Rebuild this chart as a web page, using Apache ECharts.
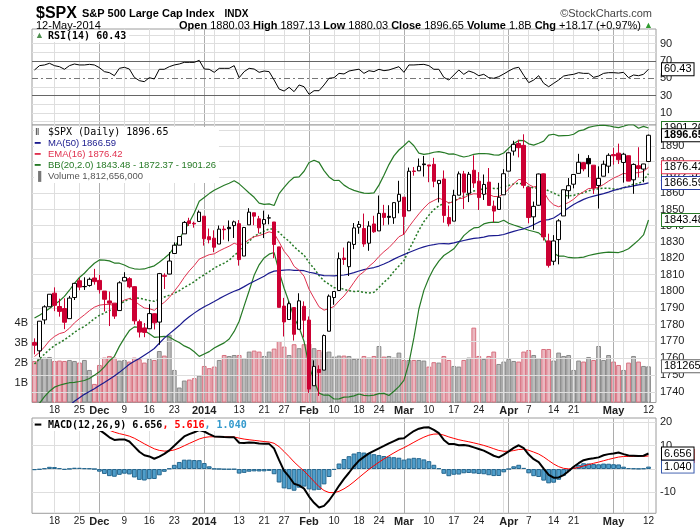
<!DOCTYPE html>
<html lang="en">
<head>
<meta charset="utf-8">
<title>$SPX Daily</title>
<script src="https://cdn.jsdelivr.net/npm/echarts@6/dist/echarts.min.js"></script>
<style>html,body{margin:0;padding:0;background:#fff}#chart{width:700px;height:530px}</style>
</head>
<body>
<div id="chart"></div>
<script>
// trading days, 12-Nov-2013 .. 12-May-2014
var dates = [
  '2013-11-12','2013-11-13','2013-11-14','2013-11-15','2013-11-18','2013-11-19','2013-11-20','2013-11-21','2013-11-22','2013-11-25','2013-11-26','2013-11-27','2013-11-29',
  '2013-12-02','2013-12-03','2013-12-04','2013-12-05','2013-12-06','2013-12-09','2013-12-10','2013-12-11','2013-12-12','2013-12-13','2013-12-16','2013-12-17','2013-12-18','2013-12-19','2013-12-20','2013-12-23','2013-12-24','2013-12-26','2013-12-27','2013-12-30','2013-12-31',
  '2014-01-02','2014-01-03','2014-01-06','2014-01-07','2014-01-08','2014-01-09','2014-01-10','2014-01-13','2014-01-14','2014-01-15','2014-01-16','2014-01-17','2014-01-21','2014-01-22','2014-01-23','2014-01-24','2014-01-27','2014-01-28','2014-01-29','2014-01-30','2014-01-31',
  '2014-02-03','2014-02-04','2014-02-05','2014-02-06','2014-02-07','2014-02-10','2014-02-11','2014-02-12','2014-02-13','2014-02-14','2014-02-18','2014-02-19','2014-02-20','2014-02-21','2014-02-24','2014-02-25','2014-02-26','2014-02-27','2014-02-28',
  '2014-03-03','2014-03-04','2014-03-05','2014-03-06','2014-03-07','2014-03-10','2014-03-11','2014-03-12','2014-03-13','2014-03-14','2014-03-17','2014-03-18','2014-03-19','2014-03-20','2014-03-21','2014-03-24','2014-03-25','2014-03-26','2014-03-27','2014-03-28','2014-03-31',
  '2014-04-01','2014-04-02','2014-04-03','2014-04-04','2014-04-07','2014-04-08','2014-04-09','2014-04-10','2014-04-11','2014-04-14','2014-04-15','2014-04-16','2014-04-17','2014-04-21','2014-04-22','2014-04-23','2014-04-24','2014-04-25','2014-04-28','2014-04-29','2014-04-30',
  '2014-05-01','2014-05-02','2014-05-05','2014-05-06','2014-05-07','2014-05-08','2014-05-09','2014-05-12'
];
var priorClose = 1771.89; // 11-Nov close, only used for the first bar's colour

var opens = [
  1769.26,1764.37,1782.75,1790.66,1798.82,1790.79,1789.59,1783.52,1796.19,1806.33,1802.87,1803.48,1808.01,
  1806.55,1800.10,1794.15,1792.82,1788.36,1806.21,1807.60,1802.76,1781.71,1777.98,1777.48,1786.47,1781.46,1809.00,1810.39,1822.92,1828.02,1834.96,1842.97,1841.47,1842.61,
  1845.86,1833.21,1832.31,1828.71,1837.90,1839.00,1840.06,1841.26,1821.36,1840.52,1847.99,1844.23,1841.05,1844.71,1842.29,1826.96,1791.03,1783.00,1790.15,1777.17,1790.88,
  1782.68,1743.82,1753.38,1752.99,1776.01,1796.20,1800.45,1820.12,1814.88,1828.46,1839.03,1838.22,1829.24,1841.07,1836.78,1847.66,1845.79,1844.90,1855.12,
  1857.68,1849.23,1874.05,1874.18,1878.52,1877.86,1878.26,1866.15,1869.06,1845.07,1842.81,1858.92,1872.25,1860.09,1874.53,1867.67,1859.48,1867.09,1852.11,1850.07,1859.16,
  1873.96,1886.61,1891.43,1890.25,1863.92,1845.48,1852.64,1872.28,1830.65,1818.18,1831.45,1846.01,1861.73,1865.79,1872.57,1879.32,1881.97,1877.72,1865.00,1870.78,1877.10,
  1884.39,1885.30,1879.45,1883.69,1868.53,1877.39,1875.27,1880.03
];
var highs = [
  1771.78,1782.00,1791.53,1798.22,1802.33,1795.51,1795.73,1797.16,1804.84,1808.10,1808.42,1808.27,1813.55,
  1810.02,1800.10,1799.80,1792.82,1806.04,1811.52,1808.52,1802.97,1782.99,1780.92,1792.22,1786.77,1811.08,1810.88,1823.75,1829.75,1833.32,1842.84,1844.89,1842.47,1849.44,
  1845.86,1838.24,1837.16,1840.10,1840.02,1843.23,1843.15,1843.45,1839.26,1850.84,1847.99,1846.04,1849.31,1846.87,1842.29,1826.96,1795.98,1793.87,1790.15,1798.77,1793.88,
  1784.83,1758.73,1755.79,1774.06,1798.03,1799.94,1823.54,1826.55,1830.25,1841.65,1842.87,1847.50,1842.79,1846.13,1858.71,1852.91,1852.65,1854.53,1867.92,
  1857.68,1876.23,1876.53,1881.94,1883.57,1877.87,1882.35,1868.38,1874.40,1852.44,1862.30,1873.76,1874.14,1873.49,1883.97,1873.34,1871.87,1875.92,1855.55,1866.63,1875.18,
  1885.84,1893.17,1893.80,1897.28,1864.04,1854.95,1872.43,1872.53,1835.07,1834.19,1844.02,1862.31,1869.63,1871.89,1884.89,1879.75,1884.06,1877.72,1877.01,1880.60,1885.20,
  1888.59,1891.33,1885.51,1883.69,1878.83,1889.07,1878.57,1897.13
];
var lows = [
  1762.29,1760.64,1780.22,1790.66,1788.00,1784.72,1777.23,1783.52,1794.70,1800.58,1800.77,1802.77,1803.98,
  1798.60,1787.85,1779.09,1783.38,1788.36,1806.21,1801.75,1780.09,1772.28,1772.45,1777.48,1777.05,1767.99,1801.35,1810.25,1822.92,1828.02,1834.96,1839.81,1838.77,1842.41,
  1827.74,1829.13,1823.73,1828.71,1831.40,1830.38,1832.43,1815.52,1821.36,1840.52,1840.30,1835.23,1832.38,1840.88,1820.06,1790.29,1772.88,1783.00,1770.45,1777.17,1772.26,
  1739.66,1743.82,1737.92,1752.99,1776.01,1791.83,1800.41,1815.97,1809.22,1825.59,1835.01,1826.99,1824.58,1835.60,1836.78,1840.19,1840.66,1841.13,1847.67,
  1834.44,1849.23,1871.11,1874.18,1870.56,1867.04,1863.88,1854.38,1841.86,1839.57,1842.81,1858.92,1850.35,1854.63,1863.46,1849.69,1855.96,1852.56,1842.11,1850.07,1859.16,
  1873.96,1883.79,1882.65,1863.26,1841.48,1837.49,1852.38,1830.87,1814.36,1815.80,1816.29,1846.01,1856.72,1863.18,1872.57,1873.91,1870.24,1859.70,1850.61,1870.78,1872.69,
  1878.04,1878.50,1866.77,1867.72,1859.79,1870.05,1867.02,1880.03
];
var closes = [
  1767.69,1782.00,1790.62,1798.18,1791.53,1787.87,1781.37,1795.85,1804.76,1802.48,1802.75,1807.23,1805.81,
  1800.90,1795.15,1792.81,1785.03,1805.09,1808.37,1802.62,1782.22,1775.50,1775.32,1786.54,1781.00,1810.65,1809.60,1818.32,1827.99,1833.32,1842.02,1841.40,1841.07,1848.36,
  1831.98,1831.37,1826.77,1837.88,1837.49,1838.13,1842.37,1819.20,1838.88,1848.38,1845.89,1838.70,1843.80,1844.86,1828.46,1790.29,1781.56,1792.50,1774.20,1794.19,1782.59,
  1741.89,1755.20,1751.64,1773.43,1797.02,1799.84,1819.75,1819.26,1829.83,1838.63,1840.76,1828.75,1839.78,1836.25,1847.61,1845.12,1845.16,1854.29,1859.45,
  1845.73,1873.91,1873.81,1877.03,1878.04,1877.17,1867.63,1868.20,1846.34,1841.13,1858.83,1872.25,1860.77,1872.01,1866.52,1857.44,1865.62,1852.56,1849.04,1857.62,1872.34,
  1885.52,1890.90,1888.77,1865.09,1845.04,1851.96,1872.18,1833.08,1815.69,1830.61,1842.98,1862.31,1864.85,1871.89,1879.55,1875.39,1878.61,1863.40,1869.43,1878.33,1883.95,
  1883.68,1881.14,1884.66,1867.72,1878.21,1875.63,1878.48,1896.65
];
// volume in billions of shares
var volumes = [
  2.08,2.18,2.25,2.28,2.08,2.10,2.08,2.13,2.08,2.00, 2.13,1.63,0.93,1.88,2.25,2.33,2.25,2.10,2.13,2.05,
  2.25,2.17,2.00,2.18,2.13,2.58,2.35,3.40,1.63,0.75, 1.10,1.15,1.22,1.35,1.83,1.72,1.80,2.13,2.38,2.33,
  2.38,2.38,2.22,2.55,2.60,2.55,2.33,2.55,2.70,3.08, 2.80,2.38,2.92,2.72,2.92,2.95,2.72,2.63,2.55,2.55,
  2.30,2.35,2.35,2.33,2.18,2.18,2.33,2.25,2.33,2.83, 2.30,2.33,2.25,2.50,2.13,2.13,2.13,2.13,2.10,1.80,
  2.02,2.00,2.33,2.13,1.83,1.80,2.13,2.25,3.75,2.33, 2.18,2.33,2.55,1.93,2.05,2.18,2.08,2.05,2.55,2.63,
  2.38,2.22,2.68,2.68,2.10,2.50,2.33,2.38,1.63,2.10, 2.05,2.28,2.13,2.83,2.13,2.38,2.05,1.88,1.63,2.00,
  2.33,2.05,1.83,1.81
];
var ma50 = [
  1715.68,1718.26,1720.97,1723.83,1726.23,1728.31,1730.15,1732.40,1734.74,1736.84, 1738.80,1740.43,1742.10,1743.92,1745.79,1747.70,1749.55,1751.68,1754.01,1756.43,
  1758.17,1759.80,1761.73,1763.65,1765.75,1768.85,1771.91,1774.43,1776.93,1779.39, 1782.27,1784.67,1786.83,1788.91,1790.66,1792.19,1793.80,1795.52,1797.07,1798.59,
  1800.00,1801.12,1802.77,1804.50,1806.06,1807.57,1809.04,1810.99,1812.15,1812.52, 1812.80,1813.01,1812.68,1812.60,1812.42,1811.50,1810.98,1810.10,1809.47,1809.36,
  1809.30,1809.55,1809.82,1810.40,1811.27,1812.23,1813.10,1813.79,1814.35,1815.25, 1816.51,1817.90,1819.48,1820.94,1822.23,1823.50,1824.78,1825.95,1826.95,1827.83,
  1828.34,1828.88,1828.99,1828.85,1829.39,1830.21,1830.89,1831.57,1832.15,1832.54, 1833.01,1833.68,1833.88,1834.06,1834.59,1835.53,1836.47,1837.35,1838.08,1839.18,
  1840.59,1842.18,1843.36,1843.79,1844.75,1846.77,1848.89,1851.16,1853.13,1854.78, 1856.29,1857.47,1858.35,1859.14,1859.94,1860.80,1861.90,1862.73,1863.70,1864.10,
  1864.76,1865.37,1865.85,1866.59
];
var ema16 = [
  1761.0,1763.5,1766.7,1770.4,1772.9,1774.6,1775.4,1777.8,1781.0,1783.5, 1785.8,1788.3,1790.4,1791.6,1792.0,1792.1,1791.3,1792.9,1794.7,1795.6,
  1794.1,1791.9,1789.9,1789.5,1788.5,1791.1,1793.3,1796.2,1800.0,1803.9, 1808.4,1812.3,1815.6,1819.5,1820.9,1822.2,1822.7,1824.5,1826.0,1827.4,
  1829.2,1828.0,1829.3,1831.5,1833.2,1833.9,1835.0,1836.2,1835.3,1830.0, 1824.3,1820.6,1815.1,1812.7,1809.1,1801.2,1795.8,1790.6,1788.6,1789.6,
  1790.8,1794.2,1797.1,1801.0,1805.4,1809.6,1811.8,1815.1,1817.6,1821.1, 1824.0,1826.5,1829.7,1833.2,1834.7,1839.3,1843.4,1847.3,1850.9,1854.0,
  1855.6,1857.1,1855.8,1854.1,1854.7,1856.7,1857.2,1859.0,1859.8,1859.6, 1860.3,1859.4,1858.1,1858.1,1859.8,1862.8,1866.1,1868.8,1868.3,1865.6,
  1864.0,1864.9,1861.2,1855.8,1852.9,1851.7,1853.0,1854.4,1856.4,1859.2, 1861.1,1863.1,1863.2,1863.9,1865.6,1867.7,1869.6,1871.0,1872.6,1872.0,
  1872.7,1873.1,1873.7,1876.42
];
var bbUpper = [
  1783.9,1785.6,1787.5,1789.6,1792.0,1794.1,1796.9,1800.6,1804.8,1808.3, 1810.9,1814.1,1817.0,1819.0,1818.9,1818.4,1817.1,1817.0,1815.9,1814.4,
  1813.6,1813.3,1813.5,1814.5,1815.4,1817.6,1820.0,1822.6,1826.8,1831.3, 1837.3,1842.0,1847.8,1855.1,1857.5,1859.9,1862.0,1863.6,1865.1,1866.4,
  1867.9,1866.0,1863.2,1860.3,1857.6,1854.0,1853.2,1853.5,1852.5,1859.9, 1863.8,1867.4,1870.1,1870.4,1873.9,1879.4,1880.8,1879.5,1874.3,1870.3,
  1868.1,1868.2,1865.2,1863.3,1861.9,1861.0,1860.2,1860.0,1860.4,1865.2, 1871.4,1878.1,1883.6,1887.3,1890.0,1893.1,1890.0,1885.3,1884.5,1885.0,
  1885.9,1886.3,1885.7,1884.7,1884.8,1883.8,1882.9,1883.5,1884.6,1885.0, 1885.1,1884.9,1884.2,1884.1,1885.4,1888.5,1891.4,1893.4,1893.3,1891.2,
  1890.4,1891.6,1892.9,1896.7,1897.3,1896.3,1896.4,1896.5,1897.3,1899.4, 1900.1,1901.7,1902.4,1903.0,1903.1,1902.7,1902.0,1901.5,1902.4,1903.4,
  1903.4,1901.1,1902.3,1901.26
];
var bbMid = [
  1756.55,1759.57,1762.45,1765.13,1767.48,1769.14,1770.88,1773.07,1775.32,1777.34, 1778.88,1781.08,1783.54,1785.50,1786.87,1788.36,1789.08,1791.98,1793.87,1795.41,
  1796.13,1795.81,1795.04,1794.46,1793.93,1795.07,1796.48,1797.61,1798.77,1800.31, 1802.27,1803.98,1805.75,1808.12,1809.96,1811.89,1813.98,1815.62,1817.07,1818.85,
  1821.85,1824.04,1827.22,1830.31,1833.55,1834.96,1836.67,1837.99,1838.02,1835.87, 1832.84,1830.40,1827.05,1824.35,1821.88,1817.40,1813.82,1809.51,1806.31,1804.25,
  1802.13,1802.15,1801.17,1800.25,1799.88,1799.99,1799.23,1798.98,1799.37,1802.23, 1805.41,1808.05,1812.05,1815.31,1818.47,1825.07,1831.00,1837.27,1842.50,1846.51,
  1849.90,1852.32,1853.67,1854.24,1855.25,1856.82,1858.43,1860.04,1861.55,1862.04, 1863.07,1863.44,1863.17,1863.08,1864.41,1864.99,1865.85,1866.44,1865.79,1864.18,
  1863.40,1863.60,1862.93,1861.66,1860.25,1858.79,1858.86,1858.51,1858.77,1859.88, 1860.37,1861.67,1862.39,1862.98,1863.28,1863.20,1862.84,1862.46,1863.44,1864.57,
  1865.88,1866.06,1868.33,1872.37
];
var bbLower = [
  1729.2,1733.6,1737.5,1740.6,1743.0,1744.1,1744.9,1745.6,1745.8,1746.3, 1746.9,1748.1,1750.0,1752.0,1754.9,1758.4,1761.1,1767.0,1771.9,1776.4,
  1778.6,1778.3,1776.5,1774.5,1772.4,1772.6,1773.0,1772.6,1770.8,1769.3, 1767.3,1766.0,1763.8,1761.1,1762.5,1763.9,1766.0,1767.6,1769.1,1771.4,
  1775.9,1782.0,1791.2,1800.3,1809.6,1816.0,1820.2,1822.5,1823.5,1811.9, 1801.8,1793.4,1784.1,1778.4,1769.9,1755.4,1746.8,1739.5,1738.3,1738.3,
  1736.1,1736.2,1737.2,1737.3,1737.9,1739.0,1738.2,1738.0,1738.4,1739.2, 1739.4,1738.1,1740.6,1743.3,1747.0,1757.1,1772.0,1789.3,1800.5,1808.0,
  1813.9,1818.3,1821.7,1823.7,1825.8,1829.8,1833.9,1836.5,1838.6,1839.0, 1841.1,1841.9,1842.2,1842.1,1843.4,1841.5,1840.4,1839.4,1838.3,1837.2,
  1836.4,1835.6,1832.9,1826.7,1823.3,1821.3,1821.4,1820.5,1820.3,1820.4, 1820.7,1821.7,1822.4,1823.0,1823.5,1823.7,1823.6,1823.5,1824.4,1825.8,
  1828.4,1831.1,1834.3,1843.48
];
var rsi14 = [
  59.6,64.6,65.4,67.3,64.6,63.4,60.4,64.6,66.5,65.4, 65.4,66.1,65.4,62.3,57.7,56.5,53.0,61.5,62.7,60.7,
  51.1,47.3,46.1,50.7,49.2,60.4,60.4,63.4,65.4,66.5, 68.4,68.4,68.4,70.7,60.7,60.4,56.9,61.5,61.5,61.5,
  64.6,50.7,57.7,61.5,60.7,56.9,58.4,57.7,48.0,37.6, 35.3,39.6,34.6,42.3,40.3,31.5,35.7,35.7,42.3,50.0,
  50.7,55.7,55.0,58.4,59.5,60.5,55.7,58.8,57.7,60.4, 58.8,59.6,61.5,63.4,56.9,65.4,65.4,65.8,66.1,64.6,
  60.4,60.4,51.1,48.0,53.8,59.6,54.6,58.4,56.5,53.0, 54.6,50.7,50.0,51.9,55.0,58.4,61.5,62.7,53.5,45.0,
  48.0,53.0,44.2,40.3,44.2,48.0,52.6,53.8,54.6,56.5, 55.7,55.7,51.1,52.6,55.7,56.5,56.5,56.0,56.9,50.7,
  53.8,53.0,54.6,60.43
];
var macdLine = [
  16.8,17.0,17.6,18.5,18.6,18.2,17.5,17.9,18.5,18.6, 18.5,18.5,18.2,16.8,15.3,13.6,12.5,12.7,12.7,11.8,
  9.6,7.4,5.9,5.4,4.4,5.3,6.5,8.0,10.0,12.0, 14.0,15.0,15.8,16.7,16.1,15.0,14.0,13.9,13.7,13.6,
  13.6,11.3,11.2,11.4,11.3,11.0,10.8,10.8,8.8,3.8, -0.8,-3.3,-6.3,-7.0,-8.4,-11.8,-14.5,-16.5,-15.8,-13.5,
  -10.5,-7.2,-4.2,-1.6,1.2,3.6,5.2,6.7,7.8,8.9, 9.9,11.0,12.0,13.0,13.2,14.8,16.3,17.3,17.8,17.9,
  16.8,15.4,12.5,10.7,10.7,10.2,10.3,10.0,9.3,8.6, 7.9,6.8,5.7,5.0,6.2,7.6,9.1,10.2,9.0,6.2,
  4.2,3.0,0.2,-2.5,-3.7,-3.6,-2.6,-0.9,1.0,2.5, 3.8,4.3,4.6,5.0,5.9,6.4,6.7,7.1,6.4,5.8,
  5.7,5.6,5.7,6.656
];
var macdSignal = [
  17.30,17.24,17.31,17.55,17.76,17.85,17.78,17.80,17.94,18.07, 18.16,18.23,18.22,17.94,17.41,16.65,15.82,15.20,14.70,14.12,
  13.22,12.06,10.83,9.74,8.67,8.00,7.70,7.76,8.21,8.97, 9.98,10.98,11.94,12.89,13.53,13.82,13.86,13.87,13.84,13.79,
  13.75,13.26,12.85,12.56,12.31,12.05,11.80,11.60,11.04,9.59, 7.51,5.35,3.02,1.02,-0.86,-3.05,-5.34,-7.57,-9.22,-10.08,
  -10.16,-9.57,-8.50,-7.12,-5.46,-3.65,-1.88,-0.16,1.43,2.92, 4.32,5.66,6.93,8.14,9.15,10.28,11.48,12.64,13.67,14.52,
  14.98,15.06,14.55,13.78,13.16,12.57,12.12,11.70,11.22,10.70, 10.14,9.47,8.72,7.98,7.62,7.62,7.92,8.38,8.50,8.04,
  7.27,6.42,5.18,3.64,2.17,1.02,0.30,0.06,0.25,0.70, 1.32,1.92,2.46,2.97,3.56,4.13,4.64,5.13,5.38,5.41,
  5.43,5.43,5.43,5.616
];
var macdHist = [
  -0.50,-0.24,0.29,0.95,0.84,0.35,-0.28,0.10,0.56,0.53, 0.34,0.27,-0.02,-1.14,-2.11,-3.05,-3.32,-2.50,-2.00,-2.32,
  -3.62,-4.66,-4.93,-4.34,-4.27,-2.70,-1.20,0.24,1.79,3.03, 4.02,4.02,3.86,3.81,2.57,1.18,0.14,0.03,-0.14,-0.19,
  -0.15,-1.96,-1.65,-1.16,-1.01,-1.05,-1.00,-0.80,-2.24,-5.79, -8.31,-8.65,-9.32,-8.02,-7.54,-8.75,-9.16,-8.93,-6.58,-3.42,
  -0.34,2.37,4.30,5.52,6.66,7.25,7.08,6.86,6.37,5.98, 5.58,5.34,5.07,4.86,4.05,4.52,4.82,4.66,4.13,3.38,
  1.82,0.34,-2.05,-3.08,-2.46,-2.37,-1.82,-1.70,-1.92,-2.10, -2.24,-2.67,-3.02,-2.98,-1.42,-0.02,1.18,1.82,0.50,-1.84,
  -3.07,-3.42,-4.98,-6.14,-5.87,-4.62,-2.90,-0.96,0.75,1.80, 2.48,2.38,2.14,2.03,2.34,2.27,2.06,1.97,1.02,0.39,
  0.27,0.17,0.27,1.04
];

// x axis: label positions (bar index) and texts; weekly and month-start grid lines
var tickIdx  = [4, 9, 13, 18, 23, 28, 34, 41, 46, 50, 55, 60, 65, 69, 74, 79, 84, 89, 95, 99, 104, 108, 116, 123];
var tickText = ['18','25','Dec','9','16','23','2014','13','21','27','Feb','10','18','24','Mar','10','17','24','Apr','7','14','21','May','12'];
var weekLines = [4, 9, 18, 23, 28, 32, 36, 41, 46, 50, 60, 65, 69, 79, 84, 89, 94, 99, 104, 108, 113, 118, 123];
var monthLines = [13, 34, 55, 74, 95, 116];
var priceTicks = [1740, 1750, 1760, 1770, 1780, 1790, 1800, 1810, 1820, 1830, 1840, 1850, 1860, 1870, 1880, 1890, 1900];
var rsiTicks = [0, 10, 20, 30, 40, 50, 60, 70, 80, 90, 100];
var macdTicks = [20, 10, 0, -10];

var chart = echarts.init(document.getElementById('chart'));

var RED = '#cc0033', GREEN = '#267a26', NAVY = '#1a1a8e', EMAC = '#e0304e';
var FONT = "'Liberation Sans', Arial, sans-serif";
var MONO = "'DejaVu Sans Mono', 'Liberation Mono', monospace";
var CLEAR = 'rgba(0,0,0,0)';

var cats = dates.concat(['']);   // one empty slot keeps a little room at the right edge
var labelMap = {};
tickIdx.forEach(function (k, j) { labelMap[k] = tickText[j]; });

var candleData = closes.map(function (c, i) {
  var prev = i ? closes[i - 1] : priorClose;
  var edge = c < prev ? RED : '#000';
  var fill = c > opens[i] ? '#fff' : edge;
  return { value: [opens[i], c, lows[i], highs[i]],
           itemStyle: { color: fill, color0: fill, borderColor: edge, borderColor0: edge } };
});
var volData = volumes.map(function (v, i) {
  var prev = i ? closes[i - 1] : priorClose;
  var down = closes[i] < prev;
  return { value: v, itemStyle: { color: down ? '#eab8c0' : '#bcbcbc', borderColor: down ? '#d8707f' : '#8a8a8a' } };
});

function gridLines(hLines) {
  var d = [];
  weekLines.forEach(function (k) { d.push({ xAxis: k, lineStyle: { color: '#dedede' } }); });
  monthLines.forEach(function (k) { d.push({ xAxis: k, lineStyle: { color: '#adadad' } }); });
  hLines.forEach(function (h) {
    d.push({ yAxis: h.v, lineStyle: { color: h.color || '#dedede', type: h.type || 'solid' },
      label: { show: !!h.label, formatter: h.label || '', position: 'end', distance: 4,
               color: '#222', fontSize: 11, fontFamily: FONT } });
  });
  return { symbol: 'none', silent: true, z: 1.5, animation: false,
           label: { show: false }, lineStyle: { width: 1, type: 'solid' }, data: d };
}

// right-hand value tag, drawn as the label of an invisible horizontal marker line
function valueBox(v, text, border, bold, z) {
  return { symbol: 'none', silent: true, z: z || 10, animation: false,
    lineStyle: { color: CLEAR, width: 1, opacity: 1 },
    label: { show: true, position: 'end', distance: 6, formatter: text, color: '#000',
             fontSize: 11, fontFamily: FONT, fontWeight: bold ? 'bold' : 'normal',
             backgroundColor: '#fff', borderColor: border, borderWidth: 1, padding: [1, 2, 0, 2] },
    data: [{ yAxis: v }] };
}

function xAxis(g, showLabel, margin) {
  return {
    gridIndex: g, type: 'category', data: cats, boundaryGap: true,
    axisLine: { show: false }, axisTick: { show: false }, splitLine: { show: false },
    axisLabel: {
      show: showLabel, interval: 0, margin: margin, color: '#222', fontFamily: FONT, fontSize: 10,
      formatter: function (v, i) {
        var t = labelMap[i];
        if (!t) return '';
        return monthLines.indexOf(i) >= 0 ? '{m|' + t + '}' : t;
      },
      rich: { m: { fontWeight: 'bold', fontSize: 11, fontFamily: FONT, color: '#222' } }
    }
  };
}

var gridBase = { left: 32, width: 624, show: true, borderColor: '#9c9c9c', borderWidth: 1,
                 backgroundColor: '#fff', outerBoundsMode: 'none', containLabel: false };

var rsiH = rsiTicks.map(function (v) {
  var h = { v: v, label: (v % 20 === 10 && v < 100) ? String(v) : '' };
  if (v === 30 || v === 70) h.color = '#666';
  if (v === 50) { h.color = '#777'; h.type = [6, 3, 2, 3]; }
  return h;
});
var priceH = priceTicks.map(function (p) { return { v: p, label: p < 1900 ? String(p) : '' }; });
var macdH = macdTicks.map(function (v) { return { v: v, label: v === 0 ? '' : String(v) }; });

var legendMain = [
  '{ic|\u2161}{p|$SPX (Daily) 1896.65}',
  '{l1|\u2501}{a|MA(50) 1866.59}',
  '{l2|\u2501}{b|EMA(16) 1876.42}',
  '{l3|\u2501}{c|BB(20,2.0) 1843.48 - 1872.37 - 1901.26}',
  '{l4|\u2590}{d|Volume 1,812,656,000}'
].join('\n');
function rs(color, fam, size, bold, w) {
  var s = { color: color, fontFamily: fam, fontSize: size, lineHeight: 11, fontWeight: bold ? 'bold' : 'normal' };
  if (w) s.width = w;
  return s;
}

var option = {
  animation: false,
  backgroundColor: '#fff',
  title: [
    { left: 31, top: 0, text: '{a|$SPX} {b|S&P 500 Large Cap Index}  {c|INDX}',
      textStyle: { rich: { a: { fontSize: 16, fontWeight: 'bold', fontFamily: FONT, color: '#000' },
                           b: { fontSize: 11, fontFamily: FONT, color: '#000' },
                           c: { fontSize: 10, fontFamily: FONT, color: '#000' } } } },
    { right: 43, top: 3, text: '\u00A9StockCharts.com',
      textStyle: { fontSize: 11, fontWeight: 'normal', fontFamily: FONT, color: '#444' } },
    { left: 31, top: 15, text: '12-May-2014',
      textStyle: { fontSize: 11, fontWeight: 'normal', fontFamily: FONT, color: '#000' } },
    { right: 42, top: 15,
      text: '{k|Open} 1880.03 {k|High} 1897.13 {k|Low} 1880.03 {k|Close} 1896.65 {k|Volume} 1.8B {k|Chg} +18.17 (+0.97%) {g|\u25B2}',
      textStyle: { fontSize: 11, fontWeight: 'normal', fontFamily: FONT, color: '#000',
                   rich: { k: { fontWeight: 'bold', fontSize: 11, fontFamily: FONT, color: '#000' },
                           g: { fontSize: 9, color: '#2e9b2e' } } } },
    { left: 34, top: 30, text: '{i|\u25B2}{t|RSI(14) 60.43}', backgroundColor: '#fff', padding: [1, 3, 1, 1],
      textStyle: { rich: { i: { fontSize: 9, color: '#4f8f4f', fontFamily: FONT, width: 13 },
                           t: { fontSize: 10, color: '#000', fontFamily: MONO } } } },
    { left: 34, top: 127, text: legendMain, backgroundColor: '#fff', padding: [0, 3, 1, 1],
      textStyle: { lineHeight: 11, rich: {
        ic: rs('#333', FONT, 9, false, 13), p: rs('#000', MONO, 10),
        l1: rs(NAVY, FONT, 9, true, 13), a: rs(NAVY, FONT, 9.5),
        l2: rs(EMAC, FONT, 9, true, 13), b: rs(EMAC, FONT, 9.5),
        l3: rs(GREEN, FONT, 9, true, 13), c: rs(GREEN, FONT, 9.5),
        l4: rs('#777', FONT, 9, false, 13), d: rs('#555', FONT, 9.5) } } },
    { left: 34, top: 419, text: '{d|\u2501}{k|MACD(12,26,9) 6.656}{r|, 5.616}{b|, 1.040}',
      backgroundColor: '#fff', padding: [1, 3, 1, 1],
      textStyle: { rich: { d: { fontSize: 10, color: '#000', fontFamily: FONT, fontWeight: 'bold', width: 13 },
                           k: { fontSize: 10, color: '#000', fontFamily: MONO },
                           r: { fontSize: 10, color: '#ff0000', fontFamily: MONO },
                           b: { fontSize: 10, color: '#3399cc', fontFamily: MONO } } } }
  ],
  grid: [
    Object.assign({}, gridBase, { top: 29, height: 96 }),
    Object.assign({}, gridBase, { top: 125, height: 277.5 }),
    Object.assign({}, gridBase, { top: 418, height: 95.3 })
  ],
  xAxis: [ xAxis(0, false, 2), xAxis(1, true, 3), xAxis(2, true, 3) ],
  yAxis: [
    { gridIndex: 0, type: 'value', min: -3.9, max: 106.9, show: false },
    { gridIndex: 1, type: 'log', logBase: 10, min: 1734.06, max: 1903.2, show: false },
    { gridIndex: 1, type: 'value', min: 0, max: 13.9, interval: 1, position: 'left',
      axisLine: { show: false }, axisTick: { show: false }, splitLine: { show: false },
      axisLabel: { margin: 4, fontSize: 11, fontFamily: FONT, color: '#222',
                   formatter: function (v) { return (v >= 1 && v <= 4) ? v + 'B' : ''; } } },
    { gridIndex: 2, type: 'value', min: -19, max: 21.9, show: false }
  ],
  series: [
    // RSI panel
    { type: 'line', xAxisIndex: 0, yAxisIndex: 0, data: rsi14, symbol: 'none', silent: true,
      lineStyle: { opacity: 0 }, markLine: gridLines(rsiH) },
    { type: 'line', xAxisIndex: 0, yAxisIndex: 0, data: rsi14, symbol: 'none', z: 3,
      lineStyle: { color: '#000', width: 1 }, markLine: valueBox(60.43, '60.43', '#000') },

    // price panel
    { type: 'bar', xAxisIndex: 1, yAxisIndex: 2, data: volData, barCategoryGap: '4%', z: 1,
      itemStyle: { borderWidth: 1 }, markLine: valueBox(1.812656, '1812656000', '#666') },
    { type: 'line', xAxisIndex: 1, yAxisIndex: 1, data: closes, symbol: 'none', silent: true,
      lineStyle: { opacity: 0 }, markLine: gridLines(priceH) },
    { type: 'line', xAxisIndex: 1, yAxisIndex: 1, data: bbUpper, symbol: 'none', z: 3,
      lineStyle: { color: GREEN, width: 1.2 }, markLine: valueBox(1901.26, '1901.26', GREEN) },
    { type: 'line', xAxisIndex: 1, yAxisIndex: 1, data: bbMid, symbol: 'none', z: 3,
      lineStyle: { color: GREEN, width: 1.5, type: [2, 2] }, markLine: valueBox(1872.37, '1872.37', GREEN, false, 9) },
    { type: 'line', xAxisIndex: 1, yAxisIndex: 1, data: bbLower, symbol: 'none', z: 3,
      lineStyle: { color: GREEN, width: 1.2 }, markLine: valueBox(1843.48, '1843.48', GREEN) },
    { type: 'line', xAxisIndex: 1, yAxisIndex: 1, data: ma50, symbol: 'none', z: 3,
      lineStyle: { color: NAVY, width: 1.2 }, markLine: valueBox(1866.59, '1866.59', '#2a3fa8') },
    { type: 'line', xAxisIndex: 1, yAxisIndex: 1, data: ema16, symbol: 'none', z: 3,
      lineStyle: { color: EMAC, width: 1 }, markLine: valueBox(1876.42, '1876.42', EMAC) },
    { type: 'candlestick', xAxisIndex: 1, yAxisIndex: 1, data: candleData, barWidth: 4, z: 4,
      itemStyle: { borderWidth: 1 }, markLine: valueBox(1896.65, '1896.65', '#000', true) },

    // MACD panel
    { type: 'line', xAxisIndex: 2, yAxisIndex: 3, data: macdLine, symbol: 'none', silent: true,
      lineStyle: { opacity: 0 }, markLine: gridLines(macdH) },
    { type: 'bar', xAxisIndex: 2, yAxisIndex: 3, data: macdHist, barCategoryGap: '4%', z: 2,
      itemStyle: { color: '#4f9ecb', borderColor: '#25678f', borderWidth: 1 },
      markLine: valueBox(1.04, '1.040', '#3355aa') },
    { type: 'line', xAxisIndex: 2, yAxisIndex: 3, data: macdSignal, symbol: 'none', z: 3,
      lineStyle: { color: '#ff0000', width: 1 }, markLine: valueBox(5.616, '5.616', '#ff0000', false, 9) },
    { type: 'line', xAxisIndex: 2, yAxisIndex: 3, data: macdLine, symbol: 'none', z: 4,
      lineStyle: { color: '#000', width: 2 }, markLine: valueBox(6.656, '6.656', '#000') }
  ]
};
chart.setOption(option);
</script>
</body>
</html>
